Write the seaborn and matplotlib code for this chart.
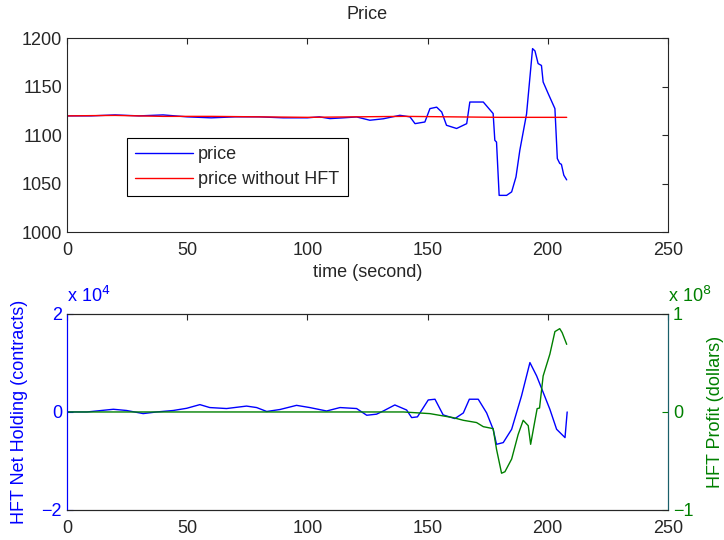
import numpy as np
import pandas as pd
import matplotlib
matplotlib.use('Agg')
import matplotlib.pyplot as plt
import seaborn as sns

# price with HFT (blue) and without HFT (red), time in seconds
t_price = [0, 10, 20, 30, 40, 50, 60, 70, 80, 90, 100, 105, 109.4, 115, 120.5, 126, 131.6, 138.5,
           142.7, 144.8, 148.9, 151, 153.8, 155.9, 157.9, 162.1, 166.3, 167.6, 173.2, 177.3, 178, 178.7,
           179.8, 182.9, 185, 186.8, 188.4, 191.2, 193.7, 194.7, 196, 197.4, 198.1, 200.2, 203, 204,
           205, 205.7, 206.7, 207.9]
price = [1120, 1120, 1121, 1120, 1121, 1119, 1118, 1119, 1119, 1118, 1118, 1119, 1117.2, 1118, 1118.9,
         1115.5, 1117, 1120.6, 1119, 1112, 1113.7, 1127.5, 1129, 1124, 1110.3, 1107, 1112, 1134.3,
         1134.3, 1122.4, 1094.8, 1093, 1038, 1038, 1041.6, 1057, 1084.5, 1122, 1189.4, 1187, 1174,
         1172, 1155, 1143, 1127.5, 1076, 1071, 1070, 1058.8, 1054]
t_nohft = [0, 20, 40, 60, 80, 100, 120, 140, 160, 180, 207.9]
price_nohft = [1120, 1120.5, 1119.5, 1119.5, 1119, 1118.5, 1119, 1119.5, 1119, 1118.5, 1118.5]

# HFT net holding (contracts)
t_hold = [0, 8.3, 19.3, 24.8, 31.7, 37.3, 44.2, 49.8, 55.3, 59.4, 66.4, 74.7, 78.9, 83.1, 88.6, 95.5,
          101, 108, 113.6, 120.5, 124.7, 128.8, 131.6, 136.4, 141.3, 143.4, 145.8, 150.3, 153.1,
          156.5, 161.4, 164.9, 167.4, 171.1, 174.6, 177.3, 178.7, 181.5, 185, 189.1, 192.6, 195.4,
          200.9, 203.7, 207.2, 208.1]
holding = [0, 0, 550, 300, -330, 0, 300, 750, 1500, 900, 700, 1200, 900, 100, 500, 1350,
           900, 200, 900, 700, -670, -450, 200, 1430, 400, -1150, -1000, 2450, 2600,
           -600, -1350, -200, 2600, 2600, -200, -3530, -6600, -6250, -3530, 3270, 10080, 7350,
           550, -3530, -5230, 0]

# HFT profit (dollars)
t_profit = [0, 140, 151, 155, 160.7, 164.9, 170.4, 173.2, 177.3, 178.7, 180.8, 182.2, 185, 187.7,
            189.8, 191.9, 192.9, 194.3, 195.6, 196.6, 198.1, 200.9, 203, 205, 206, 207.9]
profit = [0, 0, -1.7e6, -3.4e6, -5.8e6, -8.5e6, -1.08e7, -1.5e7, -1.7e7, -3.8e7, -6.25e7, -6.1e7,
          -4.8e7, -2.3e7, -8.5e6, -1.4e7, -3.3e7, -1.4e7, 3.4e6, 4e6, 3.67e7, 5.9e7, 8.2e7, 8.5e7,
          8.1e7, 6.9e7]

sns.set_style('white')
plt.rcParams['font.family'] = ['Liberation Sans', 'DejaVu Sans']
fs = 13
plt.rcParams['font.size'] = fs

fig = plt.figure(figsize=(7.24, 5.4), dpi=100)
ax1 = fig.add_axes([0.0925, 0.570, 0.830, 0.359])
ax2 = fig.add_axes([0.0925, 0.0556, 0.830, 0.363])

sns.lineplot(x=t_price, y=price, ax=ax1, color='#0000ff', lw=1, label='price')
sns.lineplot(x=t_nohft, y=price_nohft, ax=ax1, color='#ff0000', lw=1, label='price without HFT')
ax1.set_xlim(0, 250)
ax1.set_ylim(1000, 1200)
ax1.set_xticks([0, 50, 100, 150, 200, 250])
ax1.set_yticks([1000, 1050, 1100, 1150, 1200])
ax1.set_title('Price', fontsize=fs, pad=14)
ax1.set_xlabel('time (second)', fontsize=fs, labelpad=4)
ax1.tick_params(axis='x', direction='in', top=True, labelsize=fs, length=4, pad=7)
ax1.tick_params(axis='y', direction='in', right=True, labelsize=fs, length=4, pad=3.5)
leg = ax1.legend(loc='upper left', bbox_to_anchor=(0.0998, 0.486), fancybox=False, edgecolor='black',
                 framealpha=1, fontsize=fs, borderaxespad=0, handlelength=3.2,
                 handletextpad=0.3, borderpad=0.45, labelspacing=0.45)
leg.get_frame().set_linewidth(0.8)

ax3 = ax2.twinx()
sns.lineplot(x=t_hold, y=np.array(holding) / 1e4, ax=ax2, color='#0000ff', lw=1)
sns.lineplot(x=t_profit, y=np.array(profit) / 1e8, ax=ax3, color='#008000', lw=1)
ax2.set_xlim(0, 250)
ax2.set_ylim(-2, 2)
ax3.set_ylim(-1, 1)
ax2.set_xticks([0, 50, 100, 150, 200, 250])
ax2.set_yticks([-2, 0, 2])
ax3.set_yticks([-1, 0, 1])
ax2.set_yticklabels(['\u22122', '0', '2'])
ax3.set_yticklabels(['\u22121', '0', '1'])
ax2.tick_params(axis='x', direction='in', top=True, labelsize=fs, length=4, pad=7)
ax2.tick_params(axis='y', direction='in', colors='#0000ff', labelsize=fs, length=4, pad=3.5)
ax3.tick_params(axis='y', direction='in', colors='#008000', labelsize=fs, length=4, pad=3.5)
ax2.set_ylabel('HFT Net Holding (contracts)', color='#0000ff', fontsize=fs, labelpad=10)
ax3.set_ylabel('HFT Profit (dollars)', color='#008000', fontsize=fs, labelpad=10)
ax2.spines['left'].set_color('#0000ff')
ax3.spines['left'].set_color('#0000ff')
ax3.spines['right'].set_color('#1a5f6a')
ax2.spines['right'].set_color('#1a5f6a')
ax2.text(0.0, 1.04, 'x 10$^4$', transform=ax2.transAxes, color='#0000ff', fontsize=fs, va='bottom')
ax3.text(1.0, 1.04, 'x 10$^8$', transform=ax3.transAxes, color='#008000', fontsize=fs, va='bottom')

for a in (ax1, ax2, ax3):
    for s in a.spines.values():
        s.set_linewidth(0.8)

fig.savefig('out.png', dpi=100)
